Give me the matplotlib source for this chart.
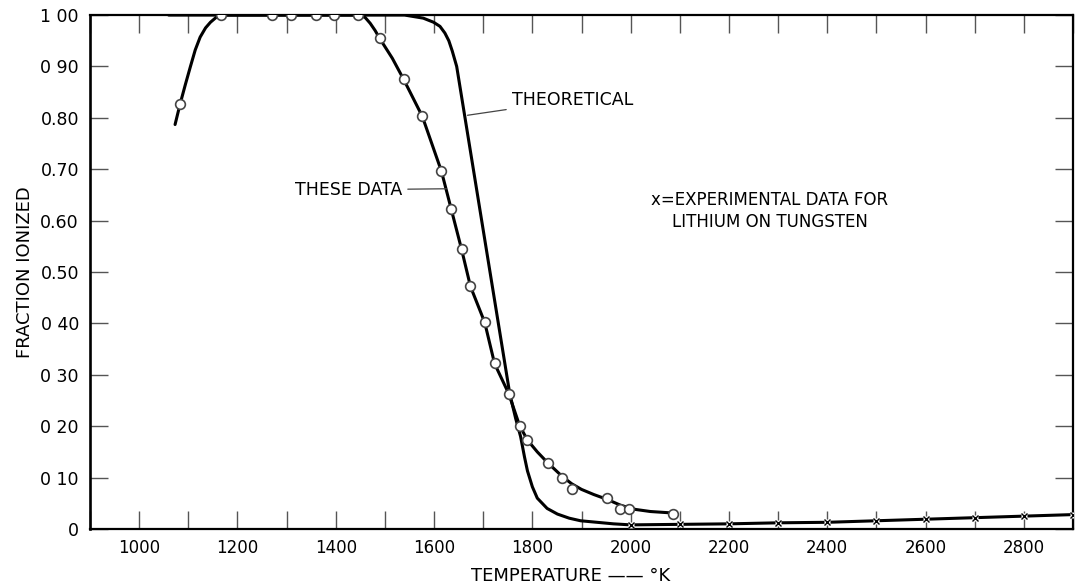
import matplotlib.pyplot as plt
from matplotlib.ticker import MultipleLocator

# "these data" - open circles
data_temp = [1083, 1167, 1271, 1308, 1360, 1397, 1446, 1489, 1538, 1576, 1615, 1635,
             1656, 1674, 1703, 1723, 1752, 1774, 1790, 1831, 1861, 1880, 1951, 1978,
             1996, 2087]
data_frac = [0.826, 1.0, 1.0, 1.0, 1.0, 1.0, 1.0, 0.955, 0.875, 0.803, 0.696, 0.622,
             0.544, 0.472, 0.402, 0.322, 0.263, 0.201, 0.173, 0.129, 0.099, 0.078, 0.060, 0.039,
             0.039, 0.029]

# hand drawn curve through the circles (traced)
data_curve_temp = [1073, 1083, 1094, 1104, 1114, 1124, 1135, 1145, 1156, 1167, 1450, 1460,
                   1470, 1480, 1489, 1515, 1538, 1576, 1615, 1635, 1656, 1674, 1703, 1723,
                   1752, 1774, 1790, 1810, 1831, 1861, 1880, 1900, 1925, 1951, 1980, 2010,
                   2040, 2087]
data_curve_frac = [0.787, 0.826, 0.865, 0.899, 0.932, 0.957, 0.975, 0.986, 0.995, 1.0, 1.0, 0.995,
                   0.984, 0.970, 0.955, 0.916, 0.875, 0.803, 0.696, 0.622, 0.544, 0.472, 0.402, 0.322,
                   0.263, 0.201, 0.173, 0.150, 0.129, 0.102, 0.088, 0.077, 0.067, 0.058, 0.046, 0.038,
                   0.034, 0.031]

# theoretical curve (traced)
theo_temp = [1060, 1540, 1578, 1599, 1612, 1622, 1630, 1637, 1646, 1754, 1766, 1776,
             1784, 1790, 1800, 1810, 1830, 1851, 1875, 1898, 1965, 2000]
theo_frac = [1.0, 1.0, 0.994, 0.986, 0.978, 0.965, 0.950, 0.930, 0.900, 0.263, 0.215, 0.180,
             0.140, 0.113, 0.082, 0.060, 0.040, 0.029, 0.021, 0.016, 0.010, 0.008]

# x = experimental data for lithium on tungsten
exp_temp = [2000, 2100, 2200, 2300, 2400, 2500, 2600, 2700, 2800, 2900]
exp_frac = [0.008, 0.009, 0.010, 0.012, 0.013, 0.016, 0.019, 0.022, 0.025, 0.028]

y_ticks = [0, 0.1, 0.2, 0.3, 0.4, 0.5, 0.6, 0.7, 0.8, 0.9, 1.0]
y_ticklabels = ["0", "0 10", "0 20", "0 30", "0 40", "0.50", "0.60", "0.70", "0.80", "0 90", "1 00"]
x_ticks = [1000, 1200, 1400, 1600, 1800, 2000, 2200, 2400, 2600, 2800]

fig = plt.figure(figsize=(10.77, 5.86), dpi=100)
ax = fig.add_axes([0.0836, 0.0973, 0.9127, 0.877])

ax.plot(theo_temp, theo_frac, color="black", lw=2.2, solid_capstyle="round",
        solid_joinstyle="round", zorder=3)
ax.plot(data_curve_temp, data_curve_frac, color="black", lw=2.2, solid_capstyle="round",
        solid_joinstyle="round", zorder=3)
ax.plot(data_temp, data_frac, ls="none", marker="o", ms=7, mfc="white", mec="#444444",
        mew=1.2, zorder=5)

ax.plot(exp_temp, exp_frac, color="black", lw=2.2, zorder=3)
ax.plot(exp_temp, exp_frac, ls="none", marker="s", ms=5, mfc="white", mec="none", zorder=4)
ax.plot(exp_temp, exp_frac, ls="none", marker="x", ms=4, mec="black", mew=1.0, zorder=5)

ax.set_xlim(900, 2900)
ax.set_ylim(0, 1.0)
ax.set_xticks(x_ticks)
ax.xaxis.set_minor_locator(MultipleLocator(100))
ax.set_yticks(y_ticks)
ax.set_yticklabels(y_ticklabels)

ax.tick_params(axis="both", which="both", direction="in", length=13, width=1,
               color="#555555", top=True, right=True)
ax.tick_params(axis="y", labelsize=12.5, pad=8)
ax.tick_params(axis="x", labelsize=12, pad=7)

ax.spines["left"].set_linewidth(1.9)
ax.spines["top"].set_linewidth(1.6)
ax.spines["bottom"].set_linewidth(1.6)
ax.spines["right"].set_linewidth(1.6)

ax.set_ylabel("FRACTION IONIZED", fontsize=13)
ax.yaxis.set_label_coords(-0.057, 0.5)
ax.set_xlabel("TEMPERATURE —— °K", fontsize=13)
ax.xaxis.set_label_coords(0.489, -0.074)

ax.annotate("THEORETICAL", xy=(1668, 0.805), xytext=(1758, 0.835),
            fontsize=12.5, va="center", ha="left",
            arrowprops=dict(arrowstyle="-", color="#444444", lw=0.9,
                            shrinkA=2, shrinkB=0))
ax.annotate("THESE DATA", xy=(1625, 0.662), xytext=(1317, 0.660),
            fontsize=12.5, va="center", ha="left",
            arrowprops=dict(arrowstyle="-", color="#444444", lw=0.9,
                            shrinkA=2, shrinkB=0))
ax.text(2283, 0.618, "x=EXPERIMENTAL DATA FOR\nLITHIUM ON TUNGSTEN",
        fontsize=12, ha="center", va="center", linespacing=1.3)

fig.savefig("out.png", dpi=100)
